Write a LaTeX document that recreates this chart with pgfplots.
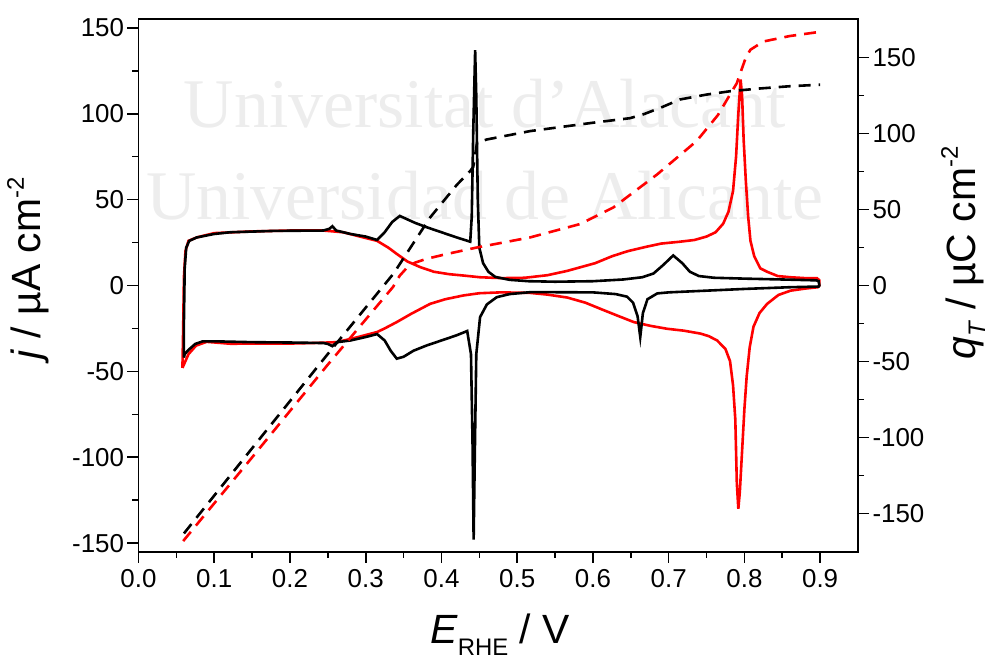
\documentclass[border=0pt]{standalone}
\usepackage{fontspec}
\setmainfont{Liberation Sans}
\newfontfamily\wmfont{Liberation Serif}
\usepackage{pgfplots}
\pgfplotsset{compat=1.18}

\newcommand{\lblfont}{\fontsize{41}{41}\selectfont}
\newcommand{\smallfont}{\fontsize{24}{24}\selectfont}

\begin{document}
\begin{tikzpicture}
% faint watermark behind the curves
\node[font=\wmfont\fontsize{70}{70}\selectfont, text=black!7, anchor=base] at (346.5bp,423.7bp) {Universitat d’Alacant};
\node[font=\wmfont\fontsize{70}{70}\selectfont, text=black!7, anchor=base] at (346.5bp,331.7bp) {Universidad de Alicante};

\begin{axis}[at={(0,0)}, anchor=south west, scale only axis,
  width=719.5bp, height=532.4bp,
  xmin=0, xmax=0.95, ymin=-155, ymax=155,
  axis line style={line width=1.8bp},
  tick style={line width=1.6bp, black},
  major tick length=11bp, minor tick length=6bp, tick align=outside,
  xtick pos=bottom, ytick pos=left,
  xtick={0,0.1,...,0.9}, xticklabels={0.0,0.1,0.2,0.3,0.4,0.5,0.6,0.7,0.8,0.9},
  minor x tick num=1,
  ytick={-150,-100,...,150}, yticklabels={-150,-100,-50,0,50,100,150},
  minor y tick num=1,
  ticklabel style={font=\fontsize{26}{26}\selectfont},
  xticklabel style={yshift=-3bp},
  every axis plot/.append style={line width=2.6bp}]
% red CV
\addplot[red] coordinates {
(0.058,-48) (0.059,-25) (0.060,5) (0.062,20) (0.066,26) (0.077,28) (0.1,30.5) (0.15,31.5) (0.2,32) (0.244,32)
(0.27,31) (0.297,28) (0.315,26) (0.33,22) (0.341,18.4) (0.355,14) (0.372,10.7) (0.39,8) (0.41,6.6) (0.429,5.8)
(0.451,4.8) (0.48,4.3) (0.51,4.5) (0.54,6) (0.566,8.5) (0.603,13) (0.625,17) (0.646,20) (0.67,22.5) (0.69,24.4)
(0.715,25.5) (0.734,26.5) (0.75,28.5) (0.762,31) (0.772,36) (0.779,43) (0.785,55) (0.789,75) (0.792,100) (0.795,120)
(0.797,110) (0.799,85) (0.802,60) (0.805,40) (0.808,26) (0.813,17) (0.821,10) (0.83,8) (0.844,5.5) (0.861,4.8)
(0.88,4.3) (0.896,4.2) (0.899,3) (0.899,0) (0.897,-1)
(0.88,-1.8) (0.861,-3) (0.845,-5.5) (0.83,-10.7) (0.82,-16) (0.812,-24) (0.807,-36) (0.803,-53) (0.800,-72) (0.797,-96)
(0.794,-120) (0.792,-130) (0.790,-115) (0.788,-78) (0.785,-58) (0.781,-44) (0.775,-37) (0.764,-32) (0.753,-29.5) (0.742,-28)
(0.72,-26.3) (0.698,-25.2) (0.676,-23.5) (0.654,-21.3) (0.632,-17.5) (0.61,-13.6) (0.59,-10) (0.566,-7) (0.54,-5.3) (0.517,-4.3)
(0.478,-4) (0.45,-4.5) (0.429,-5.8) (0.405,-8) (0.385,-10.7) (0.36,-16.5) (0.341,-21.3) (0.325,-25) (0.315,-27.1) (0.29,-30)
(0.262,-33) (0.23,-33.5) (0.2,-33.8) (0.121,-33.9) (0.09,-32.8) (0.076,-35) (0.066,-40) (0.061,-45) (0.058,-48)};
% black CV
\addplot[black] coordinates {
(0.060,-42) (0.060,-20) (0.061,10) (0.063,22) (0.067,26) (0.077,28) (0.1,30) (0.121,31) (0.18,31.8) (0.244,32)
(0.252,33) (0.256,34.5) (0.261,32) (0.28,30) (0.30,28.5) (0.315,26.5) (0.325,31) (0.335,37) (0.345,40.5) (0.355,38.5)
(0.365,36.5) (0.38,34) (0.40,31) (0.42,28) (0.438,25.5) (0.440,40) (0.442,90) (0.4445,137) (0.446,110) (0.448,50)
(0.450,22) (0.455,13) (0.462,8) (0.471,5) (0.49,3.3) (0.515,2.5) (0.55,2.2) (0.6,2.5) (0.64,3.5) (0.665,4.8)
(0.68,7) (0.693,12) (0.706,17.5) (0.718,13) (0.728,8) (0.74,5.5) (0.76,4.5) (0.8,4) (0.85,3.5) (0.895,3)
(0.898,2.5) (0.899,0) (0.898,-0.6)
(0.86,-1) (0.8,-2) (0.75,-3) (0.7,-4) (0.685,-4.6) (0.672,-8) (0.666,-16) (0.6625,-30) (0.659,-18) (0.653,-10)
(0.645,-6.5) (0.63,-5) (0.6,-4) (0.55,-3.9) (0.517,-3.9) (0.49,-5) (0.473,-6.8) (0.46,-11) (0.451,-18.4) (0.446,-40)
(0.444,-100) (0.4425,-148) (0.441,-90) (0.439,-40) (0.434,-26.5) (0.42,-29) (0.40,-32) (0.38,-35) (0.363,-38) (0.350,-41.5)
(0.341,-42.6) (0.333,-38) (0.325,-32) (0.315,-28.3) (0.30,-30) (0.28,-32) (0.262,-33) (0.256,-35.3) (0.25,-34) (0.244,-33.5)
(0.2,-33.2) (0.15,-33) (0.1,-32.5) (0.085,-32.5) (0.075,-34) (0.066,-37.5) (0.061,-40) (0.060,-42)};
\end{axis}

\begin{axis}[at={(0,0)}, anchor=south west, scale only axis,
  width=719.5bp, height=532.4bp,
  xmin=0, xmax=0.95, ymin=-175, ymax=175,
  hide x axis,
  axis line style={line width=1.8bp},
  tick style={line width=1.6bp, black},
  major tick length=11bp, minor tick length=6bp, tick align=outside,
  ytick pos=right, yticklabel pos=right,
  ytick={-150,-100,...,150}, yticklabels={-150,-100,-50,0,50,100,150},
  minor y tick num=1,
  ticklabel style={font=\fontsize{26}{26}\selectfont},
  every axis plot/.append style={line width=2.6bp, dash pattern=on 12bp off 8bp}]
% charge, red
\addplot[red] coordinates {
(0.059,-168) (0.15,-113) (0.25,-52) (0.336,-1) (0.345,6.5) (0.355,12) (0.365,15) (0.38,17.5) (0.407,20.7) (0.447,25)
(0.517,31.6) (0.583,40.4) (0.627,51.3) (0.685,73.1) (0.737,95) (0.765,112) (0.781,125.5) (0.79,133) (0.797,143) (0.802,150)
(0.808,155) (0.825,160.4) (0.86,164) (0.896,166.5)};
% charge, black
\addplot[black] coordinates {
(0.060,-163) (0.068,-158) (0.15,-107) (0.25,-45) (0.337,8) (0.385,44.7) (0.42,66) (0.438,75.3) (0.442,78) (0.4445,86)
(0.447,93.9) (0.46,96) (0.517,101.5) (0.6,107) (0.649,110) (0.667,112.6) (0.69,117) (0.715,122.3) (0.75,125.5) (0.781,127.7)
(0.82,129.5) (0.86,131) (0.9,132)};
\end{axis}

% axis titles
\node[font=\lblfont, anchor=base] at (361.5bp,-91.5bp) {\textit{E}\raisebox{-0.3em}{\smallfont RHE} / V};
\node[font=\lblfont, rotate=90, anchor=base west] at (-97.5bp,188.7bp) {\textit{j} / µA cm\raisebox{0.42em}{\smallfont -2}};
\node[font=\lblfont, rotate=90, anchor=base west] at (836.5bp,188.7bp) {\textit{q}\raisebox{-0.25em}{\smallfont\textit{T}} / µC cm\raisebox{0.42em}{\smallfont -2}};

\pgfresetboundingbox
\path[use as bounding box] (-138.5bp,-111.3bp) rectangle (858.5bp,551.7bp);
\end{tikzpicture}
\end{document}
